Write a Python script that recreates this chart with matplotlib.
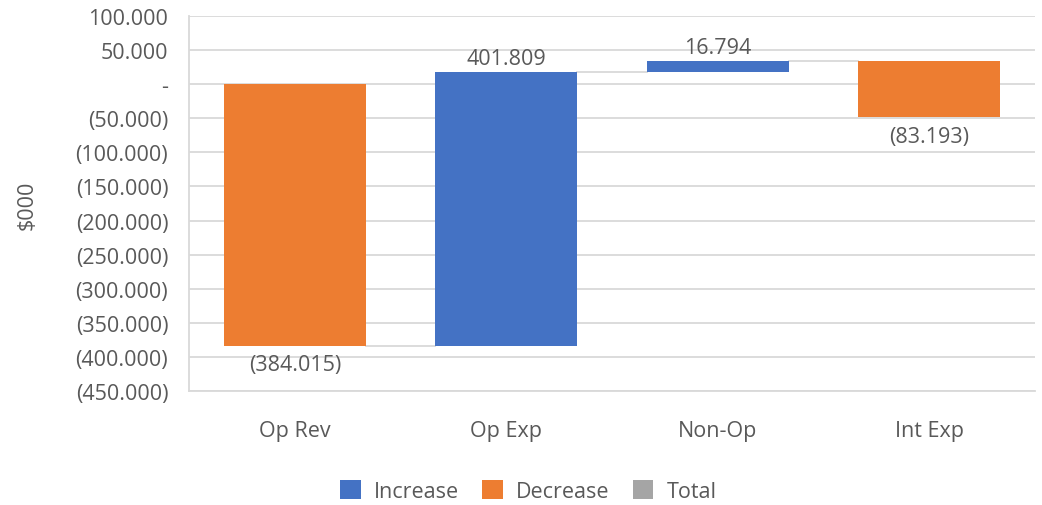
import matplotlib
matplotlib.use("Agg")
import matplotlib.pyplot as plt
from matplotlib.patches import Patch
from matplotlib.ticker import FuncFormatter, MultipleLocator
import numpy as np

# Waterfall data ($000)
categories = ["Op Rev", "Op Exp", "Non-Op", "Int Exp"]
changes = [-384.015, 401.809, 16.794, -83.193]
legend_labels = ["Increase", "Decrease", "Total"]

INC = "#4472C4"
DEC = "#ED7D31"
TOT = "#A5A5A5"
GRID = "#D9D9D9"
TXT = "#595959"
FS = 15.5

plt.rcParams["font.family"] = ["Open Sans", "DejaVu Sans"]

fig = plt.figure(figsize=(10.42, 5.06), dpi=100)
ax = fig.add_axes([0.1814, 0.2253, 0.8119, 0.7411])

vals = np.array(changes)
ends = np.cumsum(vals)
starts = ends - vals
x = np.arange(len(categories))
width = 0.67

colors = [INC if v >= 0 else DEC for v in vals]
ax.bar(x, vals, bottom=starts, width=width, color=colors, zorder=3)

# connector lines between consecutive bars
for i in range(len(vals) - 1):
    ax.plot([x[i] + width / 2, x[i + 1] - width / 2], [ends[i], ends[i]],
            color=GRID, lw=1.3, zorder=2)


def fmt(v):
    if abs(v) < 1e-9:
        return "-"
    s = f"{abs(v):,.3f}"
    return f"({s})" if v < 0 else s


# value labels
for xi, v, s, e in zip(x, vals, starts, ends):
    if v >= 0:
        ax.annotate(fmt(v), (xi, e), xytext=(0, 2), textcoords="offset points",
                    ha="center", va="bottom", fontsize=FS, color=TXT)
    else:
        ax.annotate(fmt(v), (xi, e), xytext=(0, -6), textcoords="offset points",
                    ha="center", va="top", fontsize=FS, color=TXT)

ax.set_xlim(-0.5, len(categories) - 0.5)
ax.set_ylim(-450, 100)
ax.yaxis.set_major_locator(MultipleLocator(50))
ax.yaxis.set_major_formatter(FuncFormatter(lambda v, p: fmt(v)))
ax.set_xticks(x)
ax.set_xticklabels(categories)

ax.grid(axis="y", color=GRID, lw=1.3, zorder=0)
ax.set_axisbelow(True)
for side in ["top", "right"]:
    ax.spines[side].set_visible(False)
ax.spines["left"].set_color(GRID)
ax.spines["left"].set_linewidth(1.3)
ax.spines["bottom"].set_color(GRID)
ax.spines["bottom"].set_linewidth(1.3)
ax.tick_params(axis="both", length=0, labelsize=FS, labelcolor=TXT)
ax.tick_params(axis="y", pad=15)
ax.tick_params(axis="x", pad=21)

fig.text(0.026, 0.595, "$000", rotation=90, ha="center", va="center",
         fontsize=FS, color=TXT)

handles = [Patch(facecolor=c, edgecolor="none") for c in (INC, DEC, TOT)]
fig.legend(handles, legend_labels, loc="center", bbox_to_anchor=(0.507, 0.027),
           ncol=3, frameon=False, fontsize=FS, labelcolor=TXT,
           handlelength=0.95, handleheight=0.95, handletextpad=0.6,
           columnspacing=1.1)

fig.savefig("out.png", dpi=100, facecolor="white")
